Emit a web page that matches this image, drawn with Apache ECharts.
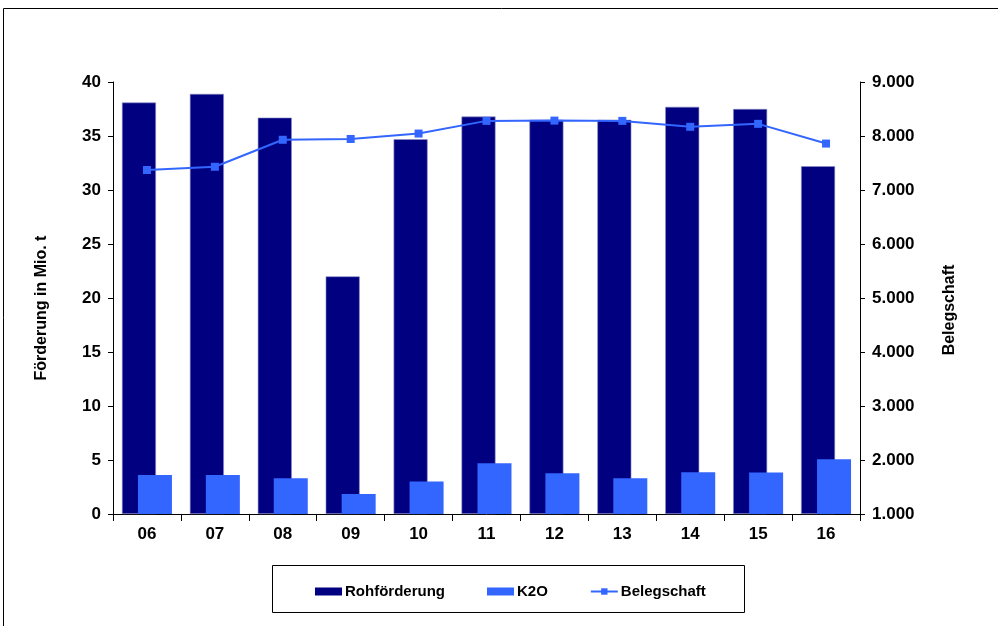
<!DOCTYPE html>
<html>
<head>
<meta charset="utf-8">
<script src="https://cdn.jsdelivr.net/npm/echarts@6/dist/echarts.min.js"></script>
<style>
  html, body { margin: 0; padding: 0; background: #fff; }
  #chart { width: 998px; height: 626px; }
</style>
</head>
<body>
<div id="chart"></div>
<script>
// Jahre (Kategorien)
const years = ["06", "07", "08", "09", "10", "11", "12", "13", "14", "15", "16"];
// Rohförderung in Mio. t
const rohfoerderung = [38.1, 38.9, 36.7, 22.0, 34.7, 36.8, 36.5, 36.5, 37.7, 37.5, 32.2];
// K2O in Mio. t
const k2o = [3.6, 3.6, 3.3, 1.85, 3.0, 4.7, 3.77, 3.3, 3.86, 3.84, 5.06];
// Belegschaft (rechte Achse)
const belegschaft = [7370, 7430, 7930, 7945, 8045, 8280, 8285, 8280, 8170, 8225, 7860];

const fontFam = "'Liberation Sans', Arial, sans-serif";
const labelStyle = { color: "#000", fontWeight: "bold", fontSize: 17, fontFamily: fontFam };
const nameFont = "bold 16px 'Liberation Sans', Arial, sans-serif";

let chart = echarts.init(document.getElementById("chart"));

const option = {
    backgroundColor: "#fff",
    animation: false,
    grid: { left: 113, right: 138, top: 82, bottom: 112 },
    graphic: [
        // äußerer Rahmen
        { type: "rect", shape: { x: 3.5, y: 8.5, width: 1010, height: 640 },
          style: { fill: "none", stroke: "#000", lineWidth: 1 }, silent: true },
        // Legendenrahmen
        { type: "rect", shape: { x: 272.5, y: 565.5, width: 472, height: 47 },
          style: { fill: "#fff", stroke: "#000", lineWidth: 1 }, silent: true, z: 0 },
        // Achsentitel links
        { type: "text", x: 42, y: 308, rotation: Math.PI / 2,
          style: { text: "Förderung in Mio. t", font: nameFont, fill: "#000",
                   align: "center", verticalAlign: "middle" }, silent: true },
        // Achsentitel rechts
        { type: "text", x: 950, y: 310, rotation: Math.PI / 2,
          style: { text: "Belegschaft", font: nameFont, fill: "#000",
                   align: "center", verticalAlign: "middle" }, silent: true }
    ],
    legend: {
        left: 310, top: 579,
        itemGap: 42,
        itemWidth: 27, itemHeight: 8,
        textStyle: { color: "#000", fontWeight: "bold", fontSize: 15, fontFamily: fontFam, padding: [0, 0, 0, -2] },
        data: [
            { name: "Rohförderung", icon: "rect", itemStyle: { borderWidth: 0 } },
            { name: "K2O", icon: "rect" },
            { name: "Belegschaft" }
        ],
        z: 10
    },
    xAxis: {
        type: "category",
        data: years,
        axisLine: { lineStyle: { color: "#000", width: 1 } },
        axisTick: { show: true, length: 7, lineStyle: { color: "#000" } },
        axisLabel: Object.assign({ margin: 12 }, labelStyle)
    },
    yAxis: [
        {
            type: "value", min: 0, max: 40, interval: 5,
            axisLine: { show: true, lineStyle: { color: "#000" } },
            axisTick: { show: true, length: 5, lineStyle: { color: "#000" } },
            axisLabel: Object.assign({ margin: 12 }, labelStyle),
            splitLine: { show: false }
        },
        {
            type: "value", min: 1000, max: 9000, interval: 1000,
            axisLine: { show: true, lineStyle: { color: "#000" } },
            axisTick: { show: true, length: 5, lineStyle: { color: "#000" } },
            axisLabel: Object.assign({
                margin: 12,
                formatter: v => (v / 1000).toFixed(0) + ".000"
            }, labelStyle),
            splitLine: { show: false }
        }
    ],
    series: [
        {
            name: "Rohförderung", type: "bar", data: rohfoerderung,
            barWidth: 34, barGap: "-53%",
            itemStyle: { color: "#000080", borderColor: "#8c8cc6", borderWidth: 0.6 }
        },
        {
            name: "K2O", type: "bar", data: k2o,
            barWidth: 34, barGap: "-53%",
            itemStyle: { color: "#3366FF" }
        },
        {
            name: "Belegschaft", type: "line", yAxisIndex: 1, data: belegschaft,
            symbol: "rect", symbolSize: 8,
            lineStyle: { color: "#3366FF", width: 2 },
            itemStyle: { color: "#3366FF" },
            z: 5
        }
    ]
};

chart.setOption(option);
</script>
</body>
</html>
